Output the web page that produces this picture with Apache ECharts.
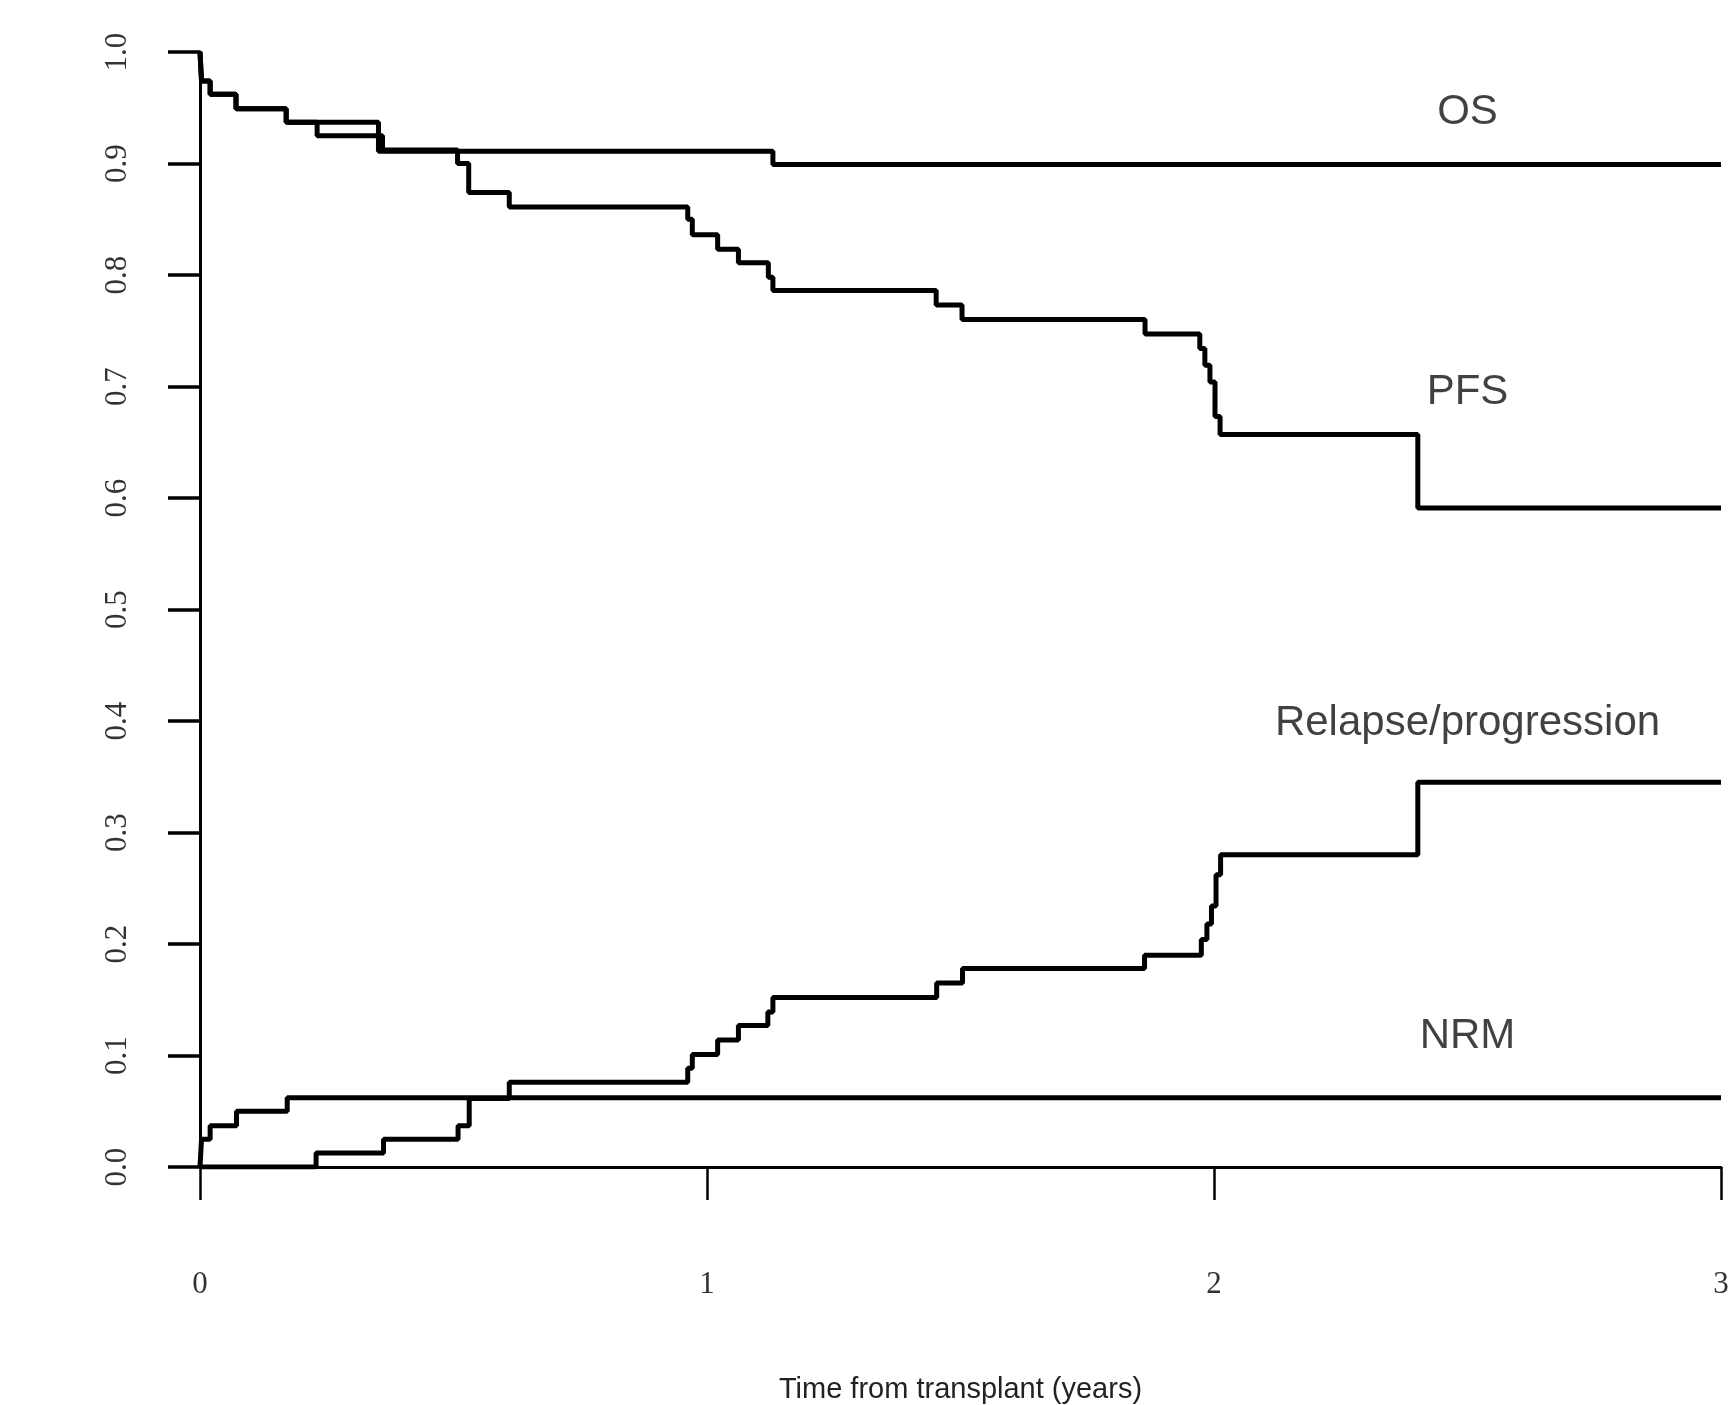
<!DOCTYPE html>
<html>
<head>
<meta charset="utf-8">
<title>Outcomes after transplant</title>
<script src="https://cdn.jsdelivr.net/npm/echarts@6/dist/echarts.min.js"></script>
<style>
  html, body { margin: 0; padding: 0; background: #fff; }
  #chart { width: 1730px; height: 1405px; }
</style>
</head>
<body>
<div id="chart"></div>
<script>
// each curve: event times (years) and the value right after that event
var osTimes = [0, 0.003, 0.020, 0.071, 0.170, 0.352, 1.130, 3.0]
var osValues = [1.0, 0.974, 0.962, 0.949, 0.937, 0.911, 0.899, 0.899]

var pfsTimes = [0, 0.003, 0.020, 0.071, 0.170, 0.231, 0.360, 0.508, 0.530, 0.610, 0.962, 0.971, 1.021, 1.062, 1.121, 1.130, 1.452, 1.503, 1.864, 1.972, 1.982, 1.992, 2.002, 2.012, 2.402, 3.0]
var pfsValues = [1.0, 0.974, 0.962, 0.949, 0.937, 0.925, 0.912, 0.900, 0.874, 0.861, 0.850, 0.836, 0.823, 0.811, 0.798, 0.786, 0.773, 0.760, 0.747, 0.734, 0.719, 0.704, 0.673, 0.657, 0.591, 0.591]

var relTimes = [0, 0.229, 0.362, 0.509, 0.531, 0.610, 0.962, 0.971, 1.021, 1.062, 1.120, 1.130, 1.453, 1.504, 1.863, 1.975, 1.986, 1.995, 2.004, 2.013, 2.402, 3.0]
var relValues = [0, 0.0125, 0.025, 0.037, 0.0615, 0.076, 0.0885, 0.101, 0.114, 0.127, 0.139, 0.152, 0.165, 0.178, 0.190, 0.204, 0.218, 0.234, 0.262, 0.280, 0.345, 0.345]

var nrmTimes = [0, 0.003, 0.020, 0.072, 0.172, 3.0]
var nrmValues = [0, 0.025, 0.037, 0.050, 0.062, 0.062]

// curve names written next to the curves (in data units)
var curveNames = ['OS', 'PFS', 'Relapse/progression', 'NRM']
var nameX = [2.5, 2.5, 2.5, 2.5]
var nameY = [0.946, 0.695, 0.398, 0.117]

function pairs (xs, ys) {
  var out = []
  for (var i = 0; i < xs.length; i++) {
    out.push([xs[i], ys[i]])
  }
  return out
}

function stepSeries (name, xs, ys) {
  return {
    name: name,
    type: 'line',
    step: 'end',
    showSymbol: false,
    silent: true,
    lineStyle: { color: '#000', width: 5 },
    data: pairs(xs, ys)
  }
}

var labelData = []
for (var i = 0; i < curveNames.length; i++) {
  labelData.push({ value: [nameX[i], nameY[i]], name: curveNames[i] })
}

var chart = echarts.init(document.getElementById('chart'))
chart.setOption({
  animation: false,
  backgroundColor: '#fff',
  grid: { left: 200, right: 9, top: 52, bottom: 238, outerBoundsMode: 'none' },
  xAxis: {
    type: 'value',
    min: 0,
    max: 3,
    interval: 1,
    name: 'Time from transplant (years)',
    nameLocation: 'middle',
    nameGap: 208,
    nameTextStyle: { fontFamily: 'Liberation Sans', fontSize: 29, color: '#222' },
    axisLine: { show: true, lineStyle: { color: '#000', width: 3 } },
    axisTick: { show: true, length: 33, lineStyle: { color: '#000', width: 2.5 } },
    axisLabel: { margin: 102, fontFamily: 'Liberation Serif', fontSize: 31, color: '#333' },
    splitLine: { show: false }
  },
  yAxis: {
    type: 'value',
    min: 0,
    max: 1,
    interval: 0.1,
    axisLine: { show: true, lineStyle: { color: '#000', width: 3 } },
    axisTick: { show: true, length: 32, lineStyle: { color: '#000', width: 3.5 } },
    axisLabel: {
      rotate: 90,
      margin: 67,
      fontFamily: 'Liberation Serif',
      fontSize: 31,
      color: '#333',
      formatter: function (v) { return v.toFixed(1) }
    },
    splitLine: { show: false }
  },
  series: [
    stepSeries('OS', osTimes, osValues),
    stepSeries('PFS', pfsTimes, pfsValues),
    stepSeries('Relapse/progression', relTimes, relValues),
    stepSeries('NRM', nrmTimes, nrmValues),
    {
      type: 'scatter',
      symbolSize: 0,
      silent: true,
      data: labelData,
      label: {
        show: true,
        position: 'inside',
        formatter: '{b}',
        fontFamily: 'Liberation Sans',
        fontSize: 42,
        color: '#111'
      }
    }
  ]
})
</script>
</body>
</html>
